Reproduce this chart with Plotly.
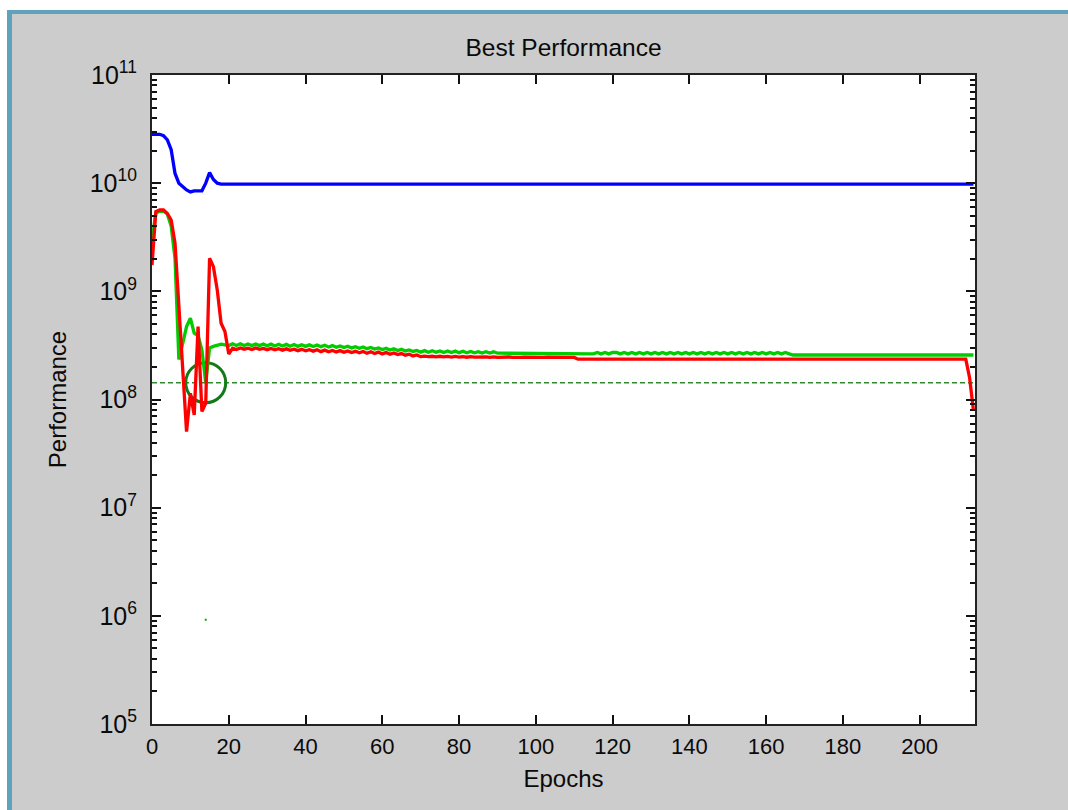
import plotly.graph_objects as go

# ---------------- data (performance values in units of 1e8) ----------------
SCALE = 1e8

train_epochs = list(range(19)) + [214]
train_perf = [283, 283, 283, 275, 251, 204, 123, 100, 93, 86.5,
              83, 85, 85, 85, 100, 125, 108, 100, 98, 98]

val_epochs = list(range(168)) + [214]
val_perf = [
    29.9, 53, 55, 55, 52, 40, 20, 2.34, 3.31, 4.72,
    5.64, 4.1, 3.9, 2.87, 1.43, 3.0, 3.1, 3.2, 3.25, 3.2,
    3.16,
    3.28, 3.16, 3.27, 3.16, 3.26, 3.15, 3.26, 3.15, 3.25, 3.14,
    3.25, 3.13, 3.24, 3.12, 3.23, 3.11, 3.22, 3.10, 3.21, 3.10,
    3.20, 3.09, 3.19, 3.08, 3.17, 3.06, 3.15, 3.04, 3.13, 3.02,
    3.11, 3.00, 3.08, 2.98, 3.06, 2.95, 3.03, 2.93, 3.00, 2.90,
    2.97, 2.87, 2.94, 2.84, 2.91, 2.81, 2.87, 2.78, 2.84, 2.74,
    2.83, 2.73, 2.82, 2.73, 2.81, 2.72, 2.81, 2.72, 2.80, 2.71,
    2.79, 2.70, 2.78, 2.70, 2.77, 2.69, 2.77, 2.69, 2.76, 2.68,
    2.68, 2.68, 2.67, 2.67, 2.67, 2.66, 2.66, 2.66, 2.65, 2.65,
    2.65, 2.65, 2.64, 2.64, 2.64, 2.64, 2.64, 2.64, 2.64, 2.64,
    2.64, 2.64, 2.64, 2.64, 2.64, 2.72, 2.64, 2.72, 2.64, 2.72,
    2.72, 2.64, 2.72, 2.64, 2.72, 2.64, 2.72, 2.64, 2.72, 2.64,
    2.72, 2.64, 2.72, 2.64, 2.72, 2.64, 2.72, 2.64, 2.72, 2.64,
    2.72, 2.64, 2.72, 2.64, 2.72, 2.64, 2.72, 2.64, 2.72, 2.64,
    2.72, 2.64, 2.72, 2.64, 2.72, 2.64, 2.72, 2.64, 2.72, 2.64,
    2.72, 2.64, 2.72, 2.64, 2.72, 2.64,
    2.58,
    2.58,
]

test_epochs = list(range(112)) + [212, 213, 214]
test_perf = [
    17.5, 54.5, 56.5, 56.5, 52.5, 45.7, 27.8, 6.7, 1.63, 0.505,
    1.14, 0.72, 4.72, 0.775, 0.925, 20.2, 16.9, 10.3, 5.07, 4.25,
    2.63,
    2.98, 2.90, 3.00, 2.92, 2.98, 2.90, 2.99, 2.91, 2.97, 2.89,
    2.96, 2.88, 2.95, 2.86, 2.94, 2.85, 2.92, 2.83, 2.91, 2.82,
    2.89, 2.80, 2.88, 2.77, 2.86, 2.76, 2.84, 2.75, 2.83, 2.73,
    2.81, 2.72, 2.79, 2.70, 2.78, 2.68, 2.76, 2.66, 2.74, 2.64,
    2.72, 2.62, 2.69, 2.60, 2.66, 2.57, 2.62, 2.53, 2.58, 2.49,
    2.52, 2.49, 2.51, 2.48, 2.51, 2.48, 2.50, 2.47, 2.50, 2.47,
    2.49, 2.46, 2.49, 2.46, 2.48, 2.46, 2.48, 2.45, 2.48, 2.45,
    2.47, 2.45, 2.47, 2.45, 2.47, 2.45, 2.46, 2.45, 2.46, 2.45,
    2.46, 2.45, 2.46, 2.45, 2.46, 2.45, 2.45, 2.45, 2.45, 2.45,
    2.36,
    2.36, 1.58, 0.79,
]

best_epoch = 14
best_perf = 1.43          # x 1e8
stray_epoch = 14
stray_perf = 0.0092       # x 1e8

x_range = [0, 214.4]
x_ticks = [0, 20, 40, 60, 80, 100, 120, 140, 160, 180, 200]
y_log_range = [5, 11]

# ---------------- figure ----------------
W, H = 1068, 810
L, R, T, B = 152, 93, 75, 86
PW, PH = W - L - R, H - T - B


def px_x(p):
    return (p - L) / PW


def px_y(p):
    return (H - B - p) / PH


def sc(vals):
    return [v * SCALE for v in vals]


fig = go.Figure()

# best-performance dashed line and circle (drawn beneath the curves)
fig.add_trace(go.Scatter(
    x=x_range, y=sc([best_perf, best_perf]), mode="lines",
    line=dict(color="#2e8b2e", width=1.6, dash="5px,3px"),
    hoverinfo="skip"))
fig.add_trace(go.Scatter(
    x=[best_epoch], y=sc([best_perf]), mode="markers",
    marker=dict(symbol="circle-open", size=40, color="#127a18",
                line=dict(width=3, color="#127a18")),
    hoverinfo="skip"))
fig.add_trace(go.Scatter(
    x=[stray_epoch], y=sc([stray_perf]), mode="markers",
    marker=dict(symbol="square", size=2, color="#00b000"),
    hoverinfo="skip"))

LW = 3.3
fig.add_trace(go.Scatter(x=train_epochs, y=sc(train_perf), mode="lines",
                         name="Train", line=dict(color="#0000ff", width=LW)))
fig.add_trace(go.Scatter(x=val_epochs, y=sc(val_perf), mode="lines",
                         name="Validation", line=dict(color="#00cc00", width=LW)))
fig.add_trace(go.Scatter(x=test_epochs, y=sc(test_perf), mode="lines",
                         name="Test", line=dict(color="#ff0000", width=LW)))

FONT = "Liberation Sans, Arial, Helvetica, sans-serif"

fig.update_layout(
    width=W, height=H,
    paper_bgcolor="#cccccc", plot_bgcolor="white",
    margin=dict(l=L, r=R, t=T, b=B, autoexpand=False),
    font=dict(family=FONT, size=21, color="#0a0a0a"),
    showlegend=False,
    title=dict(text="Best Performance", x=0.5, xref="paper", xanchor="center",
               y=1 - 47 / H, yref="container", yanchor="middle",
               font=dict(size=24.5, family=FONT, color="#0a0a0a")),
)

fig.update_xaxes(
    range=x_range, tickmode="array", tickvals=x_ticks,
    ticks="inside", ticklen=9, tickwidth=1.5, tickcolor="#111111",
    tickfont=dict(size=22), ticklabelstandoff=2,
    showline=True, linecolor="#222222", linewidth=2, mirror="allticks",
    showgrid=False, zeroline=False,
    title=dict(text="Epochs", font=dict(size=24), standoff=12),
)
fig.update_yaxes(
    type="log", range=y_log_range, dtick=1, exponentformat="power",
    ticks="inside", ticklen=9, tickwidth=1.5, tickcolor="#111111",
    tickfont=dict(size=20), ticklabelstandoff=9,
    minor=dict(ticks="inside", ticklen=5, tickwidth=1.5, tickcolor="#111111",
               showgrid=False, dtick="D1"),
    showline=True, linecolor="#222222", linewidth=2, mirror="allticks",
    showgrid=False, zeroline=False,
    title=dict(text="Performance", font=dict(size=24), standoff=16),
)

# window frame decorations
frame_shapes = [
    (-10, 7, -10, H + 10, "white"),
    (-10, W + 10, -10, 10, "white"),
    (7, 12, 10, H + 10, "#5ea3bb"),
    (7, W + 10, 10, 14, "#5ea3bb"),
]
for x0, x1, y0, y1, col in frame_shapes:
    fig.add_shape(type="rect", xref="paper", yref="paper",
                  x0=px_x(x0), x1=px_x(x1), y0=px_y(y1), y1=px_y(y0),
                  fillcolor=col, line=dict(width=0), layer="above")

fig.write_html(
    "out.html",
    config={"displayModeBar": False},
    post_script="document.body.style.margin='0';"
                "document.body.style.overflow='hidden';",
)
